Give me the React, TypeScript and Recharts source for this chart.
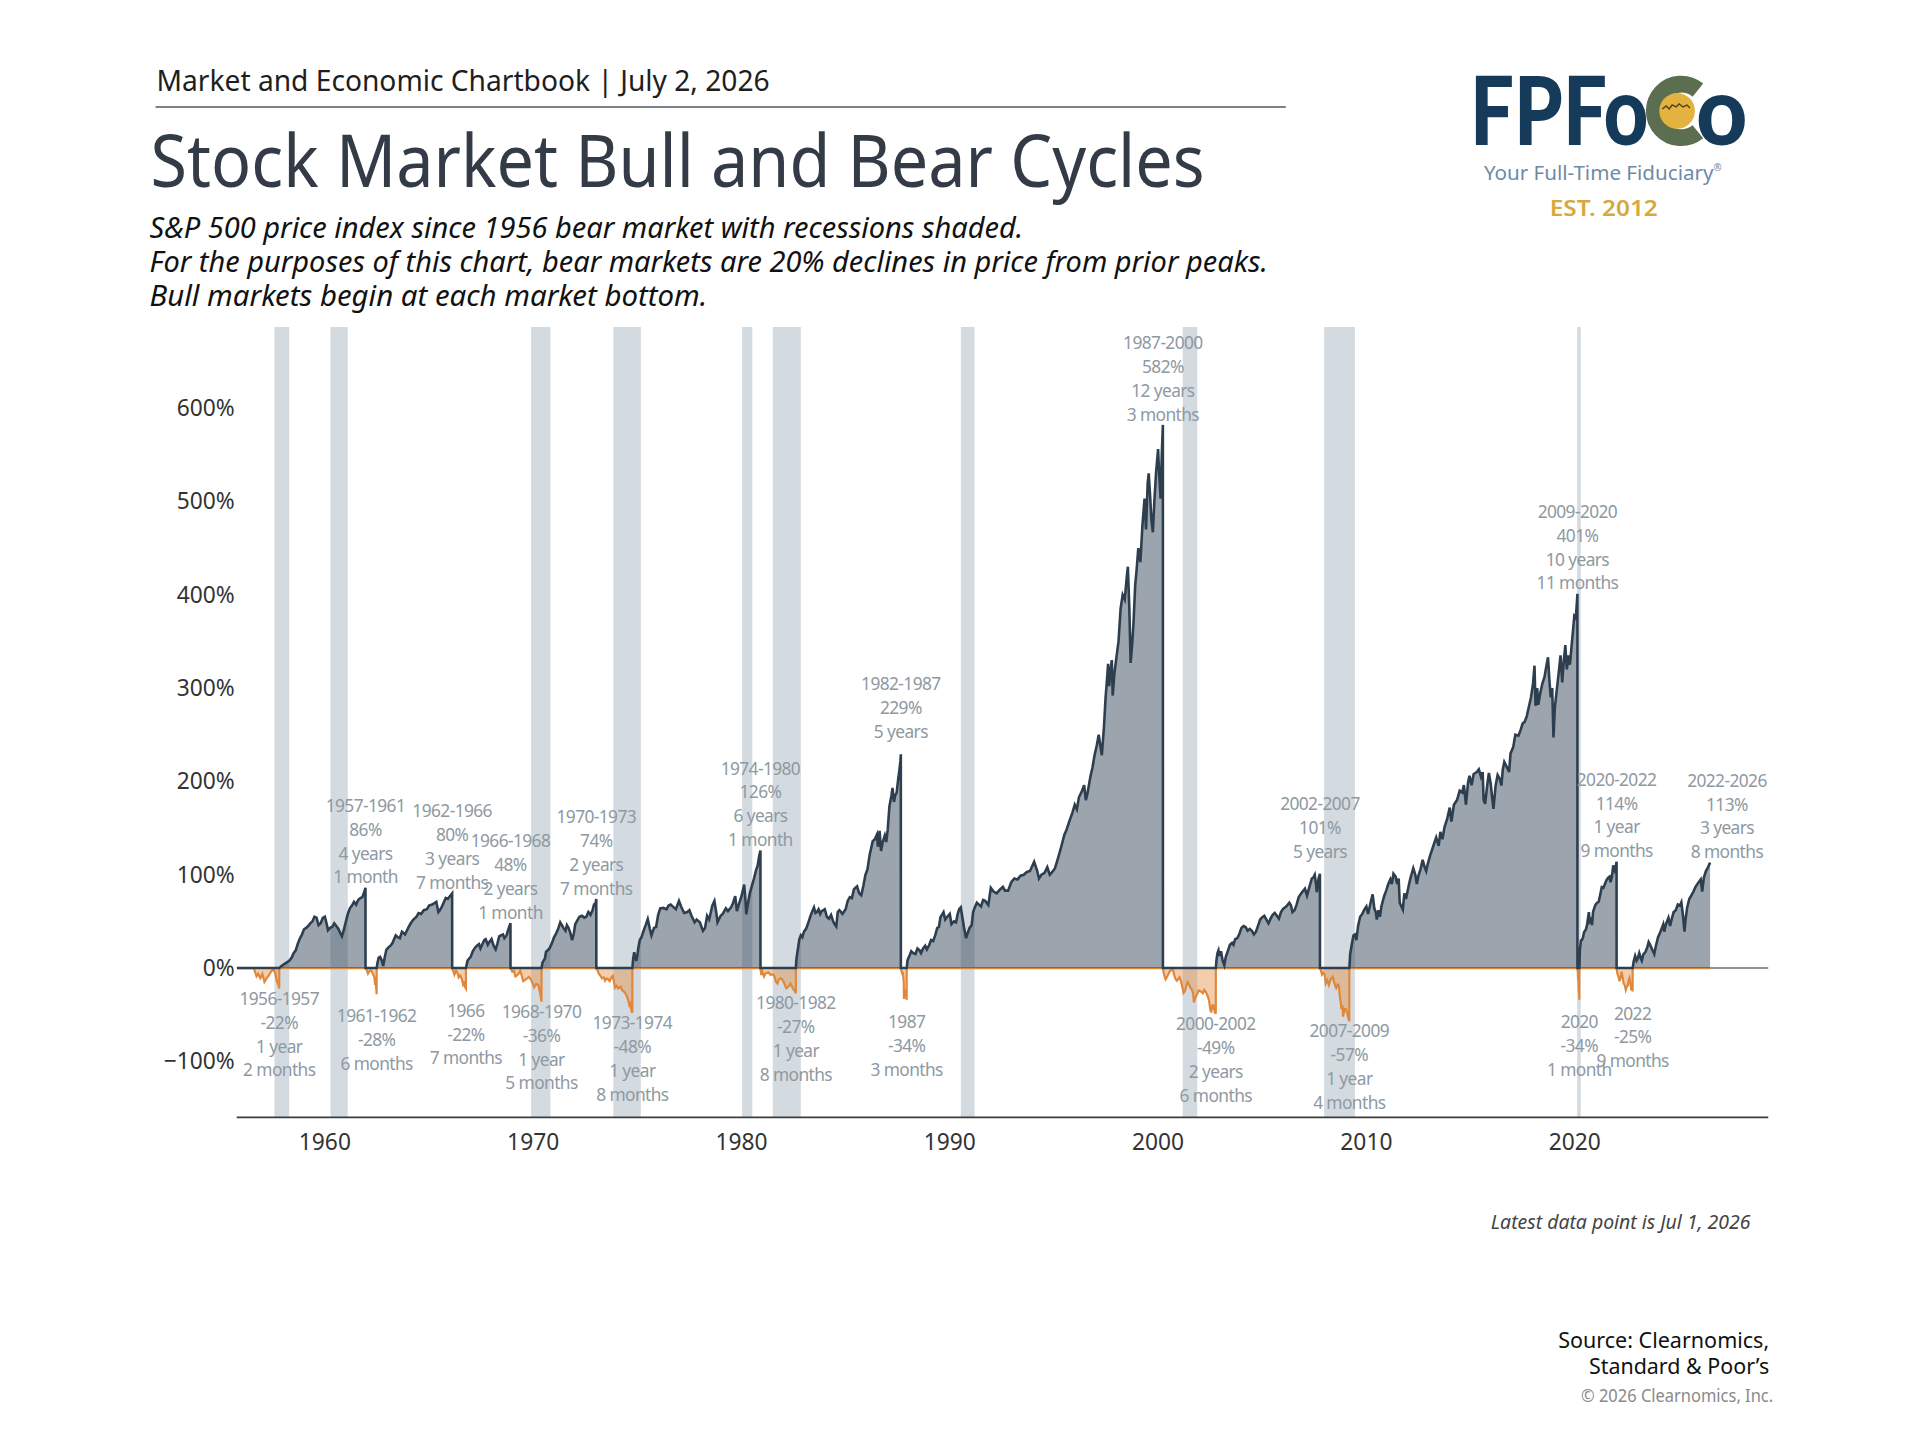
import React from 'react';
import {
  ComposedChart,
  Area,
  XAxis,
  YAxis,
  ReferenceArea,
  ReferenceLine,
  ReferenceDot,
} from 'recharts';

type Pt = [number, number];

// ---------- data: each cycle as [decimal year, % change] ----------
const bear1956: Pt[] = [[1956.59,0],[1956.66,-5],[1956.72,-8.8],[1956.8,-6],[1956.9,-10.8],[1957.0,-6.2],[1957.1,-14.8],[1957.2,-11],[1957.3,-8],[1957.42,-3.5],[1957.53,-1.2],[1957.62,-6],[1957.7,-14.8],[1957.76,-17],[1957.81,-22]];
const bull1957: Pt[] = [[1957.81,0],[1957.9,2],[1958.0,3.5],[1958.1,5],[1958.2,6.5],[1958.3,8],[1958.4,11],[1958.5,16],[1958.6,19],[1958.7,26],[1958.8,31.6],[1958.9,36],[1959.0,41.6],[1959.1,43],[1959.2,45],[1959.3,48],[1959.4,50],[1959.5,55],[1959.6,54],[1959.7,46],[1959.8,48],[1959.9,53.7],[1960.0,55],[1960.1,46],[1960.15,40.6],[1960.25,43],[1960.35,44],[1960.45,48],[1960.55,45],[1960.65,42],[1960.75,37],[1960.82,34],[1960.9,40],[1961.0,49],[1961.1,58],[1961.2,64],[1961.3,67],[1961.4,71],[1961.5,68],[1961.6,73],[1961.7,75],[1961.8,76],[1961.9,82],[1961.95,86]];
const bear1961: Pt[] = [[1961.95,0],[1962.0,-1.5],[1962.07,-6],[1962.12,-4],[1962.2,-2.1],[1962.27,-4.5],[1962.32,-7],[1962.38,-10],[1962.41,-18],[1962.43,-14],[1962.46,-20],[1962.485,-28]];
const bull1962: Pt[] = [[1962.485,0],[1962.52,5],[1962.58,11],[1962.65,12],[1962.72,9],[1962.8,2.3],[1962.86,10],[1962.95,19.6],[1963.05,22],[1963.15,24],[1963.25,27],[1963.4,35],[1963.5,33],[1963.6,32],[1963.7,39],[1963.85,36],[1964.0,43],[1964.12,48],[1964.25,52],[1964.4,55],[1964.5,59],[1964.62,58],[1964.75,62],[1964.9,63],[1965.0,67],[1965.15,68],[1965.35,71],[1965.45,60],[1965.52,62],[1965.6,65],[1965.7,70],[1965.8,75],[1965.9,74],[1966.0,77],[1966.11,80]];
const bear1966: Pt[] = [[1966.11,0],[1966.16,-3],[1966.22,-7],[1966.3,-2.7],[1966.38,-6],[1966.42,-10],[1966.5,-8],[1966.58,-12],[1966.63,-17],[1966.68,-14],[1966.72,-20],[1966.77,-22]];
const bull1966: Pt[] = [[1966.77,0],[1966.85,8],[1966.92,10],[1967.0,12],[1967.1,18],[1967.2,21.6],[1967.3,24],[1967.4,25.7],[1967.47,21],[1967.55,25],[1967.65,30],[1967.72,31],[1967.82,25],[1967.9,28],[1968.0,31],[1968.1,24],[1968.2,20],[1968.28,26],[1968.37,34],[1968.45,35],[1968.55,36],[1968.62,32],[1968.72,35],[1968.8,41],[1968.91,48]];
const bear1968: Pt[] = [[1968.91,0],[1969.0,-4],[1969.08,-3],[1969.15,-9],[1969.22,-8],[1969.3,-6],[1969.38,-3],[1969.45,-8],[1969.52,-14],[1969.6,-13],[1969.7,-11],[1969.8,-9.5],[1969.88,-12],[1969.95,-15],[1970.05,-20.6],[1970.15,-17],[1970.25,-18],[1970.31,-24],[1970.36,-30],[1970.4,-36]];
const bull1970: Pt[] = [[1970.4,0],[1970.45,6],[1970.5,8],[1970.56,10],[1970.62,17.6],[1970.7,19],[1970.78,21],[1970.88,25.6],[1971.0,33],[1971.1,37],[1971.2,42],[1971.3,49],[1971.38,46],[1971.45,43],[1971.55,40],[1971.62,46],[1971.7,43],[1971.78,38],[1971.87,30],[1971.95,37],[1972.02,47],[1972.12,51],[1972.22,55],[1972.35,56],[1972.45,54],[1972.55,55],[1972.65,60],[1972.75,57],[1972.85,62],[1972.92,68],[1973.0,70],[1973.03,74]];
const bear1973: Pt[] = [[1973.03,0],[1973.1,-3],[1973.15,-6],[1973.22,-8],[1973.3,-11],[1973.38,-10],[1973.45,-13.5],[1973.52,-11],[1973.6,-12],[1973.67,-14],[1973.75,-10],[1973.82,-8.5],[1973.88,-15],[1973.93,-21],[1974.0,-19],[1974.08,-22],[1974.2,-20],[1974.28,-24],[1974.35,-25],[1974.42,-27],[1974.5,-30],[1974.57,-35],[1974.62,-40],[1974.67,-38],[1974.72,-46],[1974.76,-48]];
const bull1974: Pt[] = [[1974.76,0],[1974.8,10],[1974.85,17],[1974.9,12],[1974.95,7.6],[1975.0,13],[1975.05,22],[1975.12,30],[1975.2,33],[1975.3,40],[1975.4,46],[1975.5,52.5],[1975.6,42],[1975.68,35],[1975.8,43],[1975.9,44],[1976.0,57],[1976.1,64],[1976.25,64.5],[1976.4,63],[1976.5,67],[1976.6,68],[1976.75,65],[1976.85,63],[1977.0,72],[1977.1,66],[1977.25,59],[1977.4,60],[1977.5,62],[1977.6,56],[1977.75,49],[1977.85,52],[1978.0,49],[1978.15,40],[1978.25,43],[1978.35,56],[1978.45,52],[1978.6,67],[1978.7,72],[1978.8,58],[1978.85,49],[1979.0,56],[1979.1,58],[1979.25,64],[1979.35,61],[1979.5,65],[1979.6,70],[1979.7,77],[1979.78,61],[1979.9,70],[1980.0,77],[1980.13,89.5],[1980.2,70],[1980.23,57.7],[1980.3,68],[1980.4,80],[1980.5,88],[1980.6,96],[1980.7,105],[1980.78,110],[1980.85,120],[1980.91,126]];
const bear1980: Pt[] = [[1980.91,0],[1980.95,-7.5],[1981.0,-3.4],[1981.08,-9],[1981.15,-6],[1981.2,-5.4],[1981.3,-4.6],[1981.38,-7],[1981.45,-6.8],[1981.55,-7.5],[1981.6,-10],[1981.65,-14.6],[1981.73,-16.7],[1981.8,-12],[1981.88,-11],[1981.95,-12],[1982.05,-16],[1982.15,-21.7],[1982.25,-20],[1982.35,-16.7],[1982.45,-21],[1982.5,-23],[1982.55,-24],[1982.61,-27]];
const bull1982: Pt[] = [[1982.61,0],[1982.63,8],[1982.67,15],[1982.72,22],[1982.78,31],[1982.85,35],[1982.92,33],[1983.0,39],[1983.1,42],[1983.2,48],[1983.3,55],[1983.4,61],[1983.48,65],[1983.55,59],[1983.62,60],[1983.7,63],[1983.78,58],[1983.85,61],[1984.0,63],[1984.1,55],[1984.2,53],[1984.3,57],[1984.4,50],[1984.5,46],[1984.55,44.5],[1984.62,60],[1984.7,62],[1984.85,58],[1985.0,63],[1985.1,72],[1985.2,76],[1985.3,75],[1985.4,84.5],[1985.55,87.5],[1985.65,80],[1985.75,78],[1985.85,88],[1985.95,100],[1986.05,106],[1986.15,121],[1986.3,136],[1986.4,138],[1986.5,143],[1986.55,130],[1986.63,147],[1986.7,125.5],[1986.78,135],[1986.88,142],[1986.95,135],[1987.02,148],[1987.1,173],[1987.2,185],[1987.25,193],[1987.32,178],[1987.38,185],[1987.45,188],[1987.52,202],[1987.58,212],[1987.63,222],[1987.65,229]];
const bear1987: Pt[] = [[1987.65,0],[1987.68,-3],[1987.72,-6],[1987.75,-5.6],[1987.78,-12],[1987.79,-16],[1987.8,-33],[1987.82,-23],[1987.85,-26],[1987.88,-28],[1987.91,-30],[1987.93,-34]];
const bull1987: Pt[] = [[1987.93,0],[1987.97,8],[1988.0,10],[1988.08,14],[1988.15,18],[1988.25,16],[1988.35,15],[1988.45,21],[1988.55,19],[1988.62,16],[1988.72,21],[1988.82,24],[1988.9,20],[1989.0,24],[1989.1,30],[1989.2,29],[1989.3,35],[1989.4,43],[1989.48,44],[1989.55,54.5],[1989.62,57],[1989.7,60],[1989.78,52],[1989.88,55],[1990.0,58],[1990.08,47],[1990.2,50],[1990.3,49],[1990.38,58],[1990.45,63],[1990.53,65],[1990.6,55],[1990.68,44],[1990.78,32],[1990.85,37],[1990.95,43],[1991.05,46],[1991.12,60],[1991.2,65],[1991.3,70],[1991.4,68],[1991.5,66],[1991.6,73],[1991.7,72],[1991.85,67.5],[1991.97,86],[1992.1,82],[1992.25,80],[1992.4,84],[1992.55,87],[1992.65,83],[1992.8,83],[1992.95,92],[1993.1,96],[1993.25,95],[1993.4,99],[1993.55,100],[1993.7,103],[1993.85,104],[1994.05,114],[1994.2,104],[1994.28,96],[1994.4,100],[1994.55,102],[1994.68,108],[1994.8,100],[1994.92,103],[1995.05,107],[1995.2,118],[1995.35,130],[1995.5,143],[1995.6,148],[1995.75,158],[1995.88,166],[1996.0,175],[1996.1,170],[1996.2,183],[1996.35,190],[1996.45,196],[1996.53,180],[1996.6,186],[1996.75,205],[1996.85,215],[1996.95,228],[1997.05,238],[1997.15,250],[1997.25,235],[1997.3,228],[1997.4,258],[1997.48,290],[1997.55,310],[1997.6,326],[1997.65,302],[1997.72,320],[1997.78,330],[1997.82,292],[1997.9,315],[1998.0,333],[1998.1,350],[1998.2,385],[1998.3,400],[1998.4,395],[1998.5,420],[1998.55,430],[1998.62,385],[1998.68,327],[1998.75,345],[1998.82,370],[1998.9,410],[1998.97,427],[1999.05,450],[1999.15,435],[1999.25,475],[1999.35,503],[1999.42,470],[1999.5,520],[1999.55,530],[1999.62,505],[1999.68,480],[1999.75,467],[1999.82,500],[1999.9,530],[2000.0,556],[2000.05,530],[2000.12,503],[2000.18,552],[2000.23,582]];
const bear2000: Pt[] = [[2000.23,0],[2000.27,-5],[2000.3,-8],[2000.36,-12],[2000.42,-9.7],[2000.5,-6],[2000.58,-3],[2000.65,-2],[2000.7,-0.5],[2000.78,-8],[2000.82,-11],[2000.9,-13.6],[2000.96,-12],[2001.03,-10],[2001.1,-14],[2001.15,-18.8],[2001.22,-26.7],[2001.3,-24],[2001.38,-17],[2001.42,-15],[2001.5,-18],[2001.55,-21.4],[2001.62,-23],[2001.68,-27],[2001.72,-36.8],[2001.78,-32],[2001.85,-29],[2001.95,-24],[2002.05,-25],[2002.15,-27],[2002.22,-23.4],[2002.3,-26],[2002.38,-30],[2002.45,-35],[2002.5,-44],[2002.55,-47.6],[2002.6,-40],[2002.65,-40],[2002.7,-45],[2002.74,-42],[2002.77,-49]];
const bull2002: Pt[] = [[2002.77,0],[2002.8,8],[2002.85,16],[2002.9,19],[2002.95,13],[2003.02,18],[2003.1,8],[2003.18,3],[2003.25,12],[2003.35,18.4],[2003.45,25],[2003.55,27],[2003.62,25],[2003.7,31],[2003.8,32],[2003.9,36.5],[2004.0,43],[2004.1,45],[2004.2,44],[2004.3,40],[2004.4,42],[2004.5,40],[2004.6,36],[2004.7,39],[2004.8,45.5],[2004.9,52],[2005.0,54.5],[2005.1,56],[2005.2,52],[2005.3,48],[2005.4,53],[2005.5,57],[2005.6,59],[2005.7,56],[2005.8,53],[2005.9,60],[2006.0,63.5],[2006.15,66],[2006.3,70],[2006.38,67],[2006.45,60],[2006.55,62],[2006.65,68],[2006.75,76],[2006.9,81],[2007.05,85],[2007.15,77.7],[2007.25,86],[2007.38,96],[2007.45,97],[2007.52,100],[2007.58,90],[2007.62,81.5],[2007.7,95.7],[2007.77,101]];
const bear2007: Pt[] = [[2007.77,0],[2007.82,-3],[2007.87,-7],[2007.93,-5],[2008.0,-7.4],[2008.05,-16.3],[2008.12,-13],[2008.2,-18.2],[2008.28,-12],[2008.38,-9.3],[2008.45,-15],[2008.52,-20],[2008.55,-21.4],[2008.62,-17.6],[2008.68,-19],[2008.72,-29.7],[2008.76,-35],[2008.8,-44],[2008.85,-40],[2008.88,-52],[2008.92,-48],[2008.96,-43.8],[2009.02,-44],[2009.08,-48],[2009.12,-53],[2009.18,-57]];
const bull2009: Pt[] = [[2009.18,0],[2009.22,15],[2009.3,25.6],[2009.38,35],[2009.45,36],[2009.52,30],[2009.6,45],[2009.7,55],[2009.8,58],[2009.9,62.6],[2010.0,66],[2010.08,58],[2010.2,70],[2010.3,79],[2010.38,64],[2010.45,60],[2010.5,52],[2010.58,62],[2010.65,55],[2010.72,66],[2010.85,77],[2010.95,83],[2011.05,90],[2011.15,95],[2011.22,90],[2011.3,101],[2011.4,98],[2011.48,90],[2011.55,96],[2011.6,70],[2011.68,66],[2011.75,62.6],[2011.82,80],[2011.9,74],[2012.0,85],[2012.1,95],[2012.25,107],[2012.35,100],[2012.42,90],[2012.5,99],[2012.6,106],[2012.7,116],[2012.8,108],[2012.87,104],[2012.95,112],[2013.05,120],[2013.2,130],[2013.35,140],[2013.47,131],[2013.55,146],[2013.65,138],[2013.75,151],[2013.88,160],[2014.0,172],[2014.08,157],[2014.2,175],[2014.35,180],[2014.48,190],[2014.6,188],[2014.68,196],[2014.78,175],[2014.88,199],[2014.95,206],[2015.05,196],[2015.15,208],[2015.3,210],[2015.4,213],[2015.5,205],[2015.58,210],[2015.63,180],[2015.7,176],[2015.8,196],[2015.88,209],[2015.97,197],[2016.05,180],[2016.1,170.5],[2016.2,195],[2016.3,207],[2016.4,203],[2016.48,195.6],[2016.55,213],[2016.62,220.8],[2016.75,215],[2016.85,210],[2016.92,230],[2017.05,237],[2017.15,250],[2017.3,249],[2017.4,255],[2017.5,262],[2017.6,264],[2017.7,270],[2017.8,280],[2017.9,290],[2018.0,305],[2018.07,324],[2018.12,281],[2018.2,300],[2018.25,282],[2018.35,295],[2018.45,305],[2018.55,312],[2018.65,325],[2018.72,333],[2018.78,310],[2018.85,290],[2018.92,300],[2018.98,247],[2019.05,280],[2019.15,300],[2019.25,320],[2019.32,335],[2019.4,306],[2019.48,330],[2019.55,346],[2019.62,320],[2019.7,335],[2019.77,325],[2019.85,345],[2019.92,362],[2019.98,377],[2020.05,375],[2020.1,390],[2020.13,401]];
const bear2020: Pt[] = [[2020.13,0],[2020.15,-4],[2020.16,-11.4],[2020.18,-12.9],[2020.19,-20],[2020.2,-26.8],[2020.21,-24],[2020.22,-34]];
const bull2020: Pt[] = [[2020.22,0],[2020.25,20],[2020.3,29.6],[2020.35,30],[2020.4,33],[2020.45,38.6],[2020.5,40],[2020.55,42],[2020.6,47.5],[2020.68,60],[2020.72,50],[2020.78,52],[2020.83,46],[2020.88,60],[2020.95,65],[2021.0,68],[2021.08,70],[2021.15,71],[2021.22,78],[2021.3,86.8],[2021.38,86],[2021.45,90],[2021.52,94],[2021.6,96.7],[2021.67,98],[2021.72,92],[2021.78,97],[2021.85,110],[2021.92,104.7],[2021.97,108],[2022.01,114]];
const bear2022: Pt[] = [[2022.01,0],[2022.05,-6],[2022.1,-9.3],[2022.15,-14],[2022.2,-10],[2022.25,-4],[2022.3,-10],[2022.35,-16.6],[2022.4,-18],[2022.45,-23.5],[2022.5,-20],[2022.55,-18.7],[2022.6,-12],[2022.63,-10.4],[2022.68,-17],[2022.72,-24],[2022.75,-21],[2022.78,-25]];
const bull2022: Pt[] = [[2022.78,0],[2022.83,7],[2022.9,13],[2022.97,8],[2023.02,10],[2023.1,16],[2023.18,10],[2023.22,8],[2023.3,15],[2023.4,17.4],[2023.48,22],[2023.55,28],[2023.62,25],[2023.72,20],[2023.82,15],[2023.9,24],[2024.0,33],[2024.1,38],[2024.25,46.8],[2024.3,39],[2024.38,47],[2024.5,53.8],[2024.58,45],[2024.65,52],[2024.75,60],[2024.85,62],[2024.95,68],[2025.05,67],[2025.12,70.5],[2025.2,56],[2025.27,39],[2025.32,52],[2025.4,65],[2025.5,74],[2025.6,78],[2025.7,82],[2025.8,87],[2025.95,92],[2026.05,95],[2026.12,82],[2026.2,97],[2026.3,104],[2026.4,108],[2026.5,113]];

// cycle list with annotation text
type Cycle = { kind: 'bull' | 'bear'; pts: Pt[]; text: string[] };
const cycles: Cycle[] = [
  { kind: 'bear', pts: bear1956, text: ['1956-1957', '-22%', '1 year', '2 months'] },
  { kind: 'bull', pts: bull1957, text: ['1957-1961', '86%', '4 years', '1 month'] },
  { kind: 'bear', pts: bear1961, text: ['1961-1962', '-28%', '6 months'] },
  { kind: 'bull', pts: bull1962, text: ['1962-1966', '80%', '3 years', '7 months'] },
  { kind: 'bear', pts: bear1966, text: ['1966', '-22%', '7 months'] },
  { kind: 'bull', pts: bull1966, text: ['1966-1968', '48%', '2 years', '1 month'] },
  { kind: 'bear', pts: bear1968, text: ['1968-1970', '-36%', '1 year', '5 months'] },
  { kind: 'bull', pts: bull1970, text: ['1970-1973', '74%', '2 years', '7 months'] },
  { kind: 'bear', pts: bear1973, text: ['1973-1974', '-48%', '1 year', '8 months'] },
  { kind: 'bull', pts: bull1974, text: ['1974-1980', '126%', '6 years', '1 month'] },
  { kind: 'bear', pts: bear1980, text: ['1980-1982', '-27%', '1 year', '8 months'] },
  { kind: 'bull', pts: bull1982, text: ['1982-1987', '229%', '5 years'] },
  { kind: 'bear', pts: bear1987, text: ['1987', '-34%', '3 months'] },
  { kind: 'bull', pts: bull1987, text: ['1987-2000', '582%', '12 years', '3 months'] },
  { kind: 'bear', pts: bear2000, text: ['2000-2002', '-49%', '2 years', '6 months'] },
  { kind: 'bull', pts: bull2002, text: ['2002-2007', '101%', '5 years'] },
  { kind: 'bear', pts: bear2007, text: ['2007-2009', '-57%', '1 year', '4 months'] },
  { kind: 'bull', pts: bull2009, text: ['2009-2020', '401%', '10 years', '11 months'] },
  { kind: 'bear', pts: bear2020, text: ['2020', '-34%', '1 month'] },
  { kind: 'bull', pts: bull2020, text: ['2020-2022', '114%', '1 year', '9 months'] },
  { kind: 'bear', pts: bear2022, text: ['2022', '-25%', '9 months'] },
  { kind: 'bull', pts: bull2022, text: ['2022-2026', '113%', '3 years', '8 months'] },
];

const recessions: [number, number][] = [
  [1957.58, 1958.29], [1960.27, 1961.1], [1969.9, 1970.83], [1973.85, 1975.17],
  [1980.03, 1980.52], [1981.5, 1982.85], [1990.53, 1991.19], [2001.18, 2001.88],
  [2007.97, 2009.45], [2020.12, 2020.29],
];

const yearTicks = [1960, 1970, 1980, 1990, 2000, 2010, 2020];
const pctTicks = [-100, 0, 100, 200, 300, 400, 500, 600];
const X_DOMAIN: [number, number] = [1955.77, 2029.29];
const Y_DOMAIN: [number, number] = [-160, 687];
const LAST_DATE = 2026.5;

// ---------- build the table the chart needs ----------
type Row = { x: number; bull: number; bear: number };
const rows: Row[] = [{ x: X_DOMAIN[0], bull: 0, bear: 0 }];
cycles.forEach((c) => {
  c.pts.forEach(([x, v], i) => {
    const prev = rows[rows.length - 1].x;
    const xx = i === 0 && x <= prev ? prev + 0.002 : x;
    rows.push({ x: xx, bull: c.kind === 'bull' ? v : 0, bear: c.kind === 'bear' ? v : 0 });
  });
});

const labelNudge: Record<string, number> = { '2022-2026': 17 };

const FONT = '"Noto Sans", "Open Sans", sans-serif';
const PAGE_SCALE = 0.9906;

function Annotation(props: any) {
  const { cx, cy, lines, dir, dx } = props;
  if (cx == null || cy == null) return null;
  const lh = 24.1;
  const center = cy + dir * 46.5;
  return (
    <text textAnchor="middle" fontFamily={FONT} fontSize={17.5} fill="#8e99a2" letterSpacing={-0.6}>
      {lines.map((t: string, i: number) => (
        <tspan key={i} x={cx + dx} y={center + (i - (lines.length - 1) / 2) * lh + 6}>
          {t}
        </tspan>
      ))}
    </text>
  );
}

const fmtPct = (v: number) => (v < 0 ? `\u2212${-v}%` : `${v}%`);

export default function App() {
  return (
    <div
      style={{
        position: 'absolute',
        left: 0,
        top: 0,
        width: 1920,
        height: 1440,
        background: '#fff',
        overflow: 'hidden',
        transform: `scale(${PAGE_SCALE})`,
        transformOrigin: '0 0',
      }}
    >
      <div style={{ position: 'absolute', left: 0, top: 0 }}>
        <ComposedChart
          width={1920}
          height={1200}
          data={rows}
          margin={{ top: 330, right: 135, bottom: 30, left: 0 }}
        >
          {recessions.map(([a, b], i) => (
            <ReferenceArea key={'r' + i} x1={a} x2={b} y1={Y_DOMAIN[0]} y2={Y_DOMAIN[1]} fill="#6f8799" fillOpacity={0.3} stroke="none" ifOverflow="visible" />
          ))}
          <XAxis
            dataKey="x"
            type="number"
            domain={X_DOMAIN}
            allowDataOverflow
            ticks={yearTicks}
            tickFormatter={(v: number) => String(v)}
            axisLine={{ stroke: '#3c3c3c', strokeWidth: 1.6 }}
            tickLine={false}
            tickSize={0}
            tickMargin={17}
            height={42}
            tick={{ fill: '#333', fontSize: 23, fontFamily: FONT }}
          />
          <YAxis
            type="number"
            domain={Y_DOMAIN}
            allowDataOverflow
            ticks={pctTicks}
            tickFormatter={fmtPct}
            axisLine={false}
            tickLine={false}
            tickSize={0}
            tickMargin={2}
            width={239}
            tick={{ fill: '#333', fontSize: 23, fontFamily: FONT }}
          />
          <ReferenceLine
            segment={[{ x: LAST_DATE, y: 0 }, { x: X_DOMAIN[1], y: 0 }]}
            stroke="#6d6d6d"
            strokeWidth={1.6}
            ifOverflow="visible"
          />
          <Area
            dataKey="bear"
            type="linear"
            baseValue={0}
            stroke="#e0873a"
            strokeWidth={2.2}
            fill="#e39247"
            fillOpacity={0.45}
            dot={false}
            activeDot={false}
            isAnimationActive={false}
          />
          <Area
            dataKey="bull"
            type="linear"
            baseValue={0}
            stroke="#2d3e4f"
            strokeWidth={2.6}
            fill="#2c3e50"
            fillOpacity={0.47}
            dot={false}
            activeDot={false}
            isAnimationActive={false}
          />
          {cycles.map((c, i) => {
            const last = c.pts[c.pts.length - 1];
            const dir = c.kind === 'bull' ? -1 : 1;
            const dx = labelNudge[c.text[0]] || 0;
            return (
              <ReferenceDot
                key={'l' + i}
                x={last[0]}
                y={last[1]}
                r={0}
                ifOverflow="visible"
                shape={(p: any) => <Annotation cx={p.cx} cy={p.cy} lines={c.text} dir={dir} dx={dx} />}
              />
            );
          })}
        </ComposedChart>
      </div>

      <svg width={1920} height={1440} style={{ position: 'absolute', left: 0, top: 0, pointerEvents: 'none' }}>
        <text x={158} y={92} fontFamily={FONT} fontSize={30} fill="#1e1e1e" textLength={619} lengthAdjust="spacingAndGlyphs">
          Market and Economic Chartbook | July 2, 2026
        </text>
        <line x1={157} x2={1298} y1={108} y2={108} stroke="#4f5a62" strokeWidth={1.6} />
        <text x={152} y={189} fontFamily={FONT} fontSize={74} fill="#333c46" textLength={1064} lengthAdjust="spacingAndGlyphs">
          Stock Market Bull and Bear Cycles
        </text>
        <g fontFamily={FONT} fontSize={29} fontStyle="italic" fill="#111">
          <text x={151} y={240} textLength={882} lengthAdjust="spacingAndGlyphs">S&amp;P 500 price index since 1956 bear market with recessions shaded.</text>
          <text x={151} y={275} textLength={1129} lengthAdjust="spacingAndGlyphs">For the purposes of this chart, bear markets are 20% declines in price from prior peaks.</text>
          <text x={151} y={309} textLength={563} lengthAdjust="spacingAndGlyphs">Bull markets begin at each market bottom.</text>
        </g>

        {/* logo */}
        <text x={1484} y={146} fontFamily="Lato, sans-serif" fontWeight={900} fontSize={96} fill="#163a5a" textLength={180} lengthAdjust="spacingAndGlyphs">FPFo</text>
        <path d="M 1714 91 A 27 27 0 1 0 1714 133" fill="none" stroke="#5b6e4f" strokeWidth={17} />
        <circle cx={1693} cy={112} r={18} fill="#e2b33f" />
        <path d="M 1678 110 l 4 -3 l 3 3 l 3 -4 l 4 2 l 3 -3 l 4 3 l 4 -2 l 3 3" fill="none" stroke="#5a3a1c" strokeWidth={1.4} />
        <text x={1712} y={146} fontFamily="Lato, sans-serif" fontWeight={900} fontSize={96} fill="#163a5a" textLength={52} lengthAdjust="spacingAndGlyphs">o</text>
        <text x={1618} y={182} textAnchor="middle" fontFamily={FONT} fontSize={21} fill="#6d8ba6" textLength={240} lengthAdjust="spacingAndGlyphs">
          Your Full-Time Fiduciary<tspan fontSize={10} dy={-9}>®</tspan>
        </text>
        <text x={1619} y={218} textAnchor="middle" fontFamily={FONT} fontWeight={600} fontSize={22} fill="#d6a93e" textLength={109} lengthAdjust="spacingAndGlyphs">
          EST. 2012
        </text>

        {/* footer */}
        <text x={1767} y={1241} textAnchor="end" fontFamily={FONT} fontStyle="italic" fontSize={20} fill="#444" textLength={262} lengthAdjust="spacingAndGlyphs">
          Latest data point is Jul 1, 2026
        </text>
        <text x={1786} y={1361} textAnchor="end" fontFamily={FONT} fontSize={22} fill="#111" textLength={213} lengthAdjust="spacingAndGlyphs">
          Source: Clearnomics,
        </text>
        <text x={1786} y={1387} textAnchor="end" fontFamily={FONT} fontSize={22} fill="#111" textLength={182} lengthAdjust="spacingAndGlyphs">
          Standard &amp; Poor’s
        </text>
        <text x={1790} y={1415} textAnchor="end" fontFamily={FONT} fontSize={17.5} fill="#8a8a8a" textLength={194} lengthAdjust="spacingAndGlyphs">
          © 2026 Clearnomics, Inc.
        </text>
      </svg>
    </div>
  );
}
